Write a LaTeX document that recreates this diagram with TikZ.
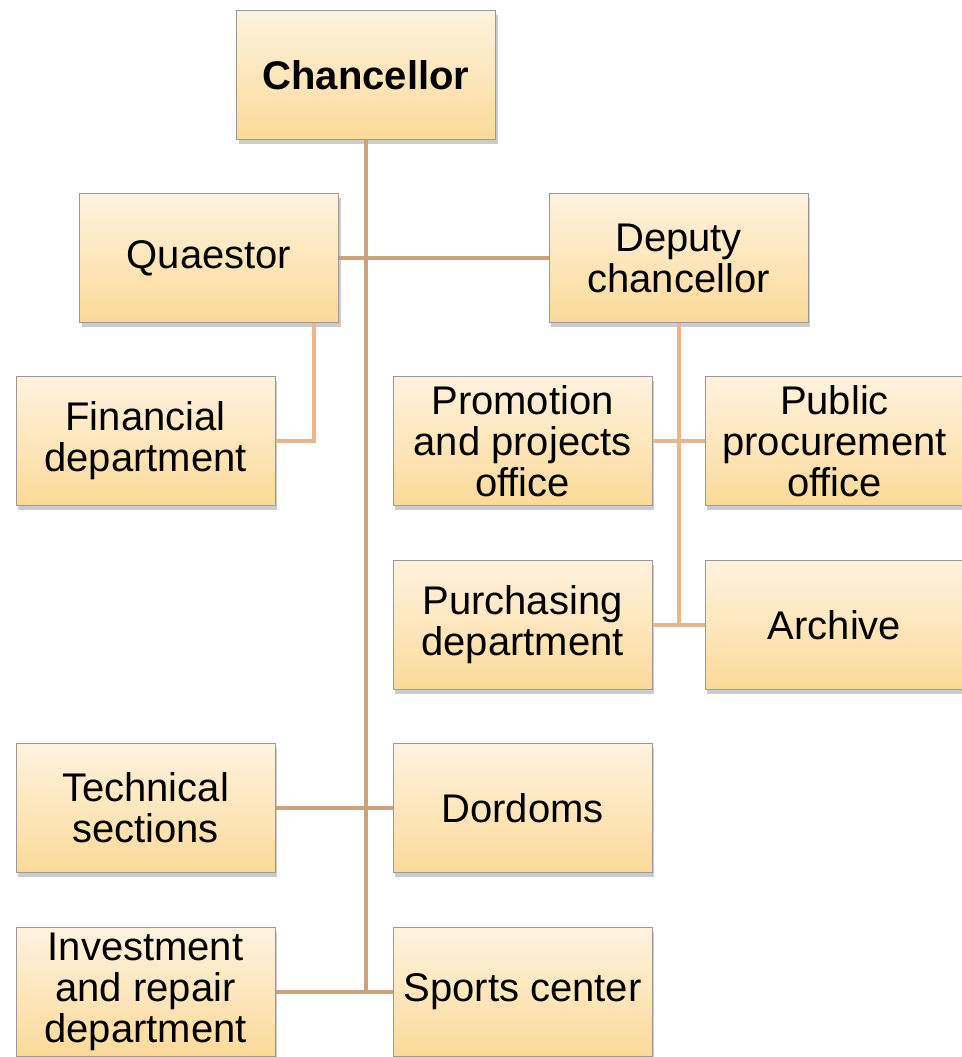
\documentclass[tikz,border=0pt]{standalone}
\usepackage{fontspec}
\setmainfont{Liberation Sans}
\usepackage{tikz}
\usetikzlibrary{shadows}
\definecolor{boxtop}{HTML}{FEF3DF}
\definecolor{boxbot}{HTML}{FBDA98}
\definecolor{trunkcol}{HTML}{CBA27C}
\definecolor{branchcol}{HTML}{E9B88A}

\begin{document}
\begin{tikzpicture}[x=0.5pt,y=-0.5pt,
    unit/.style={draw=gray!80, line width=0.5pt, top color=boxtop, bottom color=boxbot,
      minimum width=129.5pt, minimum height=64.5pt, align=center, inner sep=1pt,
      font=\fontsize{20}{20.5}\selectfont,
      drop shadow={opacity=0.4, shadow xshift=1pt, shadow yshift=-2pt}},
    trunk/.style={draw=trunkcol, line width=2pt},
    branch/.style={draw=branchcol, line width=2pt}]
	  \useasboundingbox (0,0) rectangle (962,1057);
	  \clip (0,0) rectangle (962,1057);
	  % Top levels
	  \node [unit, font=\fontsize{20}{20.5}\selectfont\bfseries] (chan) at (366,75) {Chancellor};
	  \node [unit] (quae) at (209,258) {Quaestor};
	  \node [unit] (dep) at (678.5,258) {Deputy\\chancellor};
	  % Under quaestor and deputy
	  \node [unit] (fin) at (145.5,441) {Financial\\department};
	  \node [unit] (prom) at (522.5,441) {Promotion\\and projects\\office};
	  \node [unit] (pub) at (834.5,441) {Public\\procurement\\office};
	  \node [unit] (purch) at (522.5,625) {Purchasing\\department};
	  \node [unit] (arch) at (834.5,625) {Archive};
	  % Under chancellor
	  \node [unit] (tech) at (145.5,808) {Technical\\sections};
	  \node [unit] (dord) at (522.5,808) {Dordoms};
	  \node [unit] (inv) at (145.5,992) {Investment\\and repair\\department};
	  \node [unit] (sport) at (522.5,992) {Sports center};
	  % Connectors
	  \draw [trunk] (chan.south) -- (chan.south |- sport.west);
	  \draw [trunk] (quae.east) -- (dep.west);
	  \draw [trunk] (tech.east) -- (dord.west);
	  \draw [trunk] (inv.east) -- (sport.west);
	  \draw [branch] ([xshift=-12.5pt]quae.south east) |- (fin.east);
	  \draw [branch] (dep.south) -- (dep.south |- arch.west);
	  \draw [branch] (prom.east) -- (pub.west);
	  \draw [branch] (purch.east) -- (arch.west);
	 \end{tikzpicture}
\end{document}
